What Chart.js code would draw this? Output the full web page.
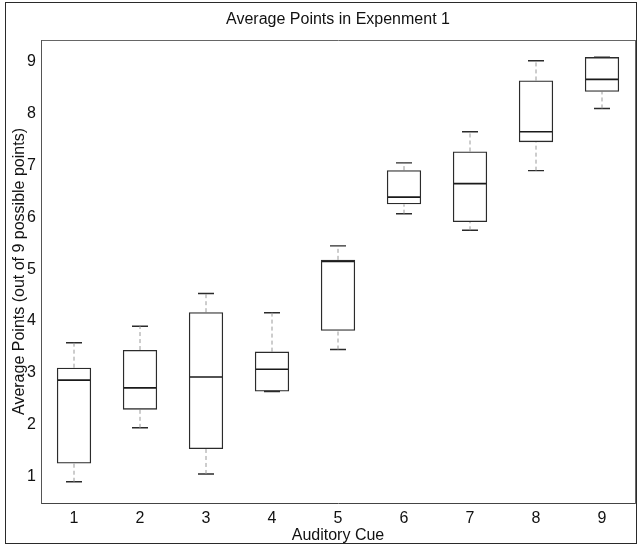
<!DOCTYPE html>
<html>
<head>
<meta charset="utf-8">
<title>Average Points in Expenment 1</title>
<script src="https://cdn.jsdelivr.net/npm/chart.js@4/dist/chart.umd.min.js"></script>
<style>
    html, body { margin: 0; padding: 0; background: #ffffff; }
    #wrap { position: relative; width: 639px; height: 547px; }
    #frame {
        position: absolute; left: 5px; top: 2px; width: 630px; height: 540px;
        border: 1.5px solid #2a2a2a; pointer-events: none;
    }
</style>
</head>
<body>
<div id="wrap">
    <canvas id="boxChart" width="639" height="547"></canvas>
    <div id="frame"></div>
</div>
<script>
// 데이터
const cues = ['1', '2', '3', '4', '5', '6', '7', '8', '9'];
const upperCap = [3.58, 3.90, 4.53, 4.16, 5.45, 7.05, 7.65, 9.02, 9.09];
const q3       = [3.10, 3.44, 4.17, 3.41, 5.18, 6.91, 7.27, 8.64, 9.09];
const medians  = [2.86, 2.71, 2.92, 3.07, 5.15, 6.39, 6.65, 7.65, 8.66];
const q1       = [1.25, 2.29, 1.53, 2.64, 3.81, 6.25, 5.91, 7.45, 8.42];
const lowerCap = [0.90, 1.94, 1.05, 2.64, 3.45, 6.07, 5.75, 6.90, 8.10];
const yTicks = [1, 2, 3, 4, 5, 6, 7, 8, 9];
const yMin = 0.49;
const yMax = 9.42;

Chart.defaults.font.family = '"Liberation Sans", Arial, sans-serif';
Chart.defaults.font.size = 16;
Chart.defaults.color = '#111111';

const INK = '#2b2b2b';

// 수염(whisker) 선: 카테고리마다 두 점 + 끊기
function whiskerPoints(from, to) {
    const pts = [];
    cues.forEach((c, i) => {
        pts.push({ x: c, y: from[i] });
        pts.push({ x: c, y: to[i] });
        pts.push({ x: c, y: null });
    });
    return pts;
}

function markPoints(values) {
    return cues.map((c, i) => ({ x: c, y: values[i] }));
}

const canvas = document.getElementById('boxChart');

new Chart(canvas, {
    type: 'bar',
    data: {
        labels: cues,
        datasets: [
            {
                // 상자 (Q1 ~ Q3)
                type: 'bar',
                label: 'box',
                data: cues.map((c, i) => [q1[i], q3[i]]),
                backgroundColor: 'rgba(0,0,0,0)',
                borderColor: INK,
                borderWidth: 1.3,
                borderSkipped: false,
                grouped: false,
                categoryPercentage: 1,
                barPercentage: 0.52
            },
            {
                type: 'line',
                label: 'upper whisker',
                data: whiskerPoints(q3, upperCap),
                borderColor: '#9a9a9a',
                borderWidth: 1,
                borderDash: [4, 3],
                pointRadius: 0,
                spanGaps: false
            },
            {
                type: 'line',
                label: 'lower whisker',
                data: whiskerPoints(lowerCap, q1),
                borderColor: '#9a9a9a',
                borderWidth: 1,
                borderDash: [4, 3],
                pointRadius: 0,
                spanGaps: false
            },
            {
                // 중앙값
                type: 'line',
                label: 'median',
                data: markPoints(medians),
                showLine: false,
                pointStyle: 'line',
                pointRadius: 17,
                pointBorderWidth: 1.6,
                pointBorderColor: '#1a1a1a'
            },
            {
                type: 'line',
                label: 'upper cap',
                data: markPoints(upperCap),
                showLine: false,
                pointStyle: 'line',
                pointRadius: 8,
                pointBorderWidth: 1.4,
                pointBorderColor: INK
            },
            {
                type: 'line',
                label: 'lower cap',
                data: markPoints(lowerCap),
                showLine: false,
                pointStyle: 'line',
                pointRadius: 8,
                pointBorderWidth: 1.4,
                pointBorderColor: INK
            }
        ]
    },
    options: {
        responsive: false,
        devicePixelRatio: 1,
        animation: false,
        layout: {
            // 점 반지름 때문에 자동 여백이 생기지 않도록
            autoPadding: false,
            padding: { left: 0, right: 4, top: 2, bottom: 0 }
        },
        plugins: {
            legend: { display: false },
            tooltip: { enabled: false },
            title: {
                display: true,
                text: 'Average Points in Expenment 1',
                fullSize: false,
                color: '#111111',
                font: { size: 16, weight: 'normal' },
                padding: { top: 8.4, bottom: 10.4 }
            }
        },
        scales: {
            x: {
                type: 'category',
                offset: true,
                grid: { display: false, drawTicks: false },
                border: { color: '#444444', width: 1 },
                ticks: { padding: 6, color: '#111111' },
                title: {
                    display: true,
                    text: 'Auditory Cue',
                    color: '#111111',
                    padding: { top: 0, bottom: 1.9 }
                },
                afterFit: (scale) => { scale.height = 44; }
            },
            x2: {
                type: 'category',
                labels: cues,
                position: 'top',
                offset: true,
                grid: { display: false, drawTicks: false },
                border: { color: '#666666', width: 1, dash: [6, 4] },
                ticks: { display: false },
                afterFit: (scale) => { scale.height = 0; }
            },
            y: {
                type: 'linear',
                min: yMin,
                max: yMax,
                afterBuildTicks: (scale) => {
                    scale.ticks = yTicks.map(v => ({ value: v }));
                },
                grid: { display: false, drawTicks: false },
                border: { color: '#555555', width: 1, dash: [2, 2] },
                ticks: { padding: 5, color: '#111111' },
                title: {
                    display: true,
                    text: 'Average Points (out of 9 possible points)',
                    color: '#111111',
                    padding: { top: 10.4, bottom: 0 }
                },
                afterFit: (scale) => { scale.width = 41; }
            },
            y2: {
                type: 'linear',
                position: 'right',
                min: yMin,
                max: yMax,
                grid: { display: false, drawTicks: false },
                border: { color: '#666666', width: 1, dash: [2, 6] },
                ticks: { display: false },
                afterFit: (scale) => { scale.width = 0; }
            }
        }
    }
});
</script>
</body>
</html>
